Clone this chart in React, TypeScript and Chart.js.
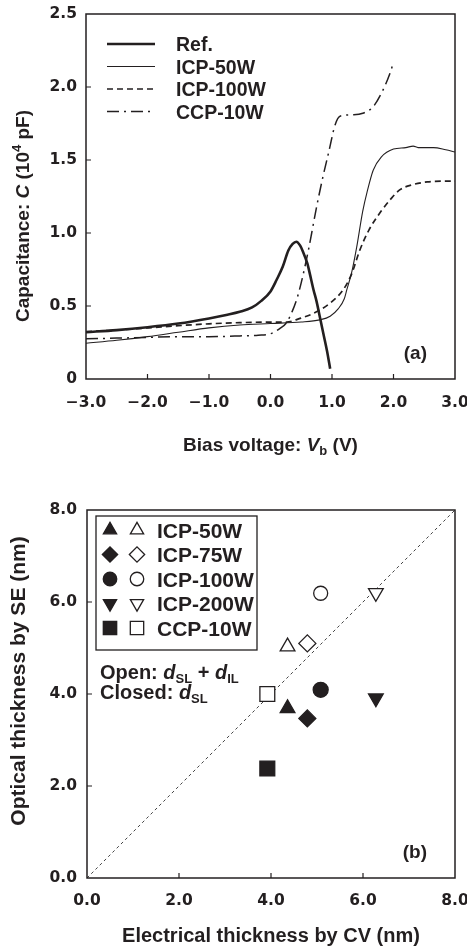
import React, { useEffect, useRef } from 'react';
import { Chart, registerables } from 'chart.js';

Chart.register(...registerables);

// ---------- Panel (a): C–V curves ----------
const seriesNames = ['Ref.', 'ICP-50W', 'ICP-100W', 'CCP-10W'];

const refV = [-3.0, -2.5, -2.0, -1.5, -1.0, -0.7, -0.5, -0.3, -0.15, 0.0, 0.1, 0.2, 0.29, 0.36, 0.42, 0.48, 0.53, 0.6, 0.64, 0.7, 0.75, 0.8, 0.86, 0.92, 0.97];
const refC = [0.32, 0.335, 0.355, 0.38, 0.415, 0.44, 0.46, 0.49, 0.535, 0.6, 0.68, 0.77, 0.88, 0.925, 0.94, 0.915, 0.87, 0.79, 0.72, 0.61, 0.53, 0.43, 0.31, 0.19, 0.07];

const icp50V = [-3.0, -2.5, -2.0, -1.5, -1.0, -0.5, 0.0, 0.5, 0.8, 0.97, 1.1, 1.2, 1.24, 1.32, 1.4, 1.5, 1.57, 1.67, 1.8, 2.0, 2.2, 2.32, 2.4, 2.65, 2.85, 3.0];
const icp50C = [0.245, 0.265, 0.29, 0.32, 0.35, 0.37, 0.38, 0.39, 0.405, 0.43, 0.48, 0.55, 0.61, 0.73, 0.9, 1.15, 1.28, 1.43, 1.52, 1.575, 1.585, 1.595, 1.585, 1.585, 1.57, 1.555];

const icp100V = [-3.0, -2.5, -2.0, -1.5, -1.0, -0.5, 0.0, 0.26, 0.48, 0.7, 0.97, 1.18, 1.32, 1.45, 1.6, 1.8, 1.95, 2.1, 2.3, 2.55, 2.8, 3.0];
const icp100C = [0.325, 0.335, 0.35, 0.365, 0.378, 0.386, 0.39, 0.39, 0.415, 0.45, 0.52, 0.61, 0.72, 0.88, 1.02, 1.15, 1.23, 1.295, 1.33, 1.35, 1.355, 1.355];

const ccp10V = [-3.0, -2.5, -2.0, -1.5, -1.0, -0.5, -0.2, 0.0, 0.15, 0.26, 0.35, 0.43, 0.5, 0.56, 0.62, 0.67, 0.75, 0.85, 0.95, 1.05, 1.13, 1.35, 1.5, 1.67, 1.83, 1.94, 2.0];
const ccp10C = [0.275, 0.28, 0.285, 0.29, 0.29, 0.295, 0.3, 0.31, 0.345, 0.385, 0.46, 0.55, 0.66, 0.77, 0.89, 1.0, 1.18, 1.38, 1.56, 1.74, 1.8, 1.81, 1.82, 1.865, 1.98, 2.09, 2.17];

const biasTicks = [-3, -2, -1, 0, 1, 2, 3];
const biasTickLabels = ['\u22123.0', '\u22122.0', '\u22121.0', '0.0', '1.0', '2.0', '3.0'];
const capTicks = [0, 0.5, 1, 1.5, 2, 2.5];
const capTickLabels = ['0', '0.5', '1.0', '1.5', '2.0', '2.5'];

// ---------- Panel (b): thickness comparison ----------
const sampleNames = ['ICP-50W', 'ICP-75W', 'ICP-100W', 'ICP-200W', 'CCP-10W'];
const electricalCV = [4.36, 4.79, 5.08, 6.28, 3.92];
const openSE = [5.03, 5.1, 6.19, 6.2, 4.0];
const closedSE = [3.69, 3.47, 4.09, 3.91, 2.38];
const diagonal = [0, 8];
const thickTicks = [0, 2, 4, 6, 8];
const thickTickLabels = ['0.0', '2.0', '4.0', '6.0', '8.0'];

// ---------- styles ----------
const INK = '#231f20';
const TICK_FAMILY = '"DejaVu Sans", sans-serif';
const TEXT_FAMILY = '"Liberation Sans", Arial, Helvetica, sans-serif';

const lineStyles = [
  { width: 2.6, dash: [] as number[] },
  { width: 1.1, dash: [] as number[] },
  { width: 1.7, dash: [6, 4] },
  { width: 1.5, dash: [12, 5, 2, 5] },
];

const markerShapes = ['triangle', 'rectRot', 'circle', 'triangle', 'rect'];
const markerRotation = [0, 0, 0, 180, 0];
const markerRadius = [8.5, 8.5, 7.5, 8.5, 10.5];

type Seg = { t: string; i?: boolean; sub?: boolean; sup?: boolean };

function drawRich(ctx: CanvasRenderingContext2D, segs: Seg[], x: number, y: number, size: number, align: 'left' | 'center' | 'right') {
  const fontFor = (s: Seg) =>
    `${s.i ? 'italic ' : ''}bold ${s.sub || s.sup ? Math.round(size * 0.66) : size}px ${TEXT_FAMILY}`;
  let w = 0;
  for (const s of segs) {
    ctx.font = fontFor(s);
    w += ctx.measureText(s.t).width;
  }
  let cx = align === 'left' ? x : align === 'center' ? x - w / 2 : x - w;
  ctx.textAlign = 'left';
  ctx.textBaseline = 'alphabetic';
  ctx.fillStyle = INK;
  for (const s of segs) {
    ctx.font = fontFor(s);
    const dy = s.sub ? size * 0.22 : s.sup ? -size * 0.42 : 0;
    ctx.fillText(s.t, cx, y + dy);
    cx += ctx.measureText(s.t).width;
  }
}

function drawRotated(ctx: CanvasRenderingContext2D, segs: Seg[], bx: number, cy: number, size: number) {
  ctx.save();
  ctx.translate(bx, cy);
  ctx.rotate(-Math.PI / 2);
  drawRich(ctx, segs, 0, 0, size, 'center');
  ctx.restore();
}

function drawMarker(ctx: CanvasRenderingContext2D, shape: string, x: number, y: number, r: number, rotDeg: number, filled: boolean) {
  ctx.save();
  ctx.translate(x, y);
  ctx.rotate((rotDeg * Math.PI) / 180);
  ctx.beginPath();
  if (shape === 'circle') {
    ctx.arc(0, 0, r, 0, Math.PI * 2);
  } else if (shape === 'triangle') {
    for (let k = 0; k < 3; k++) {
      const a = (k * 2 * Math.PI) / 3;
      const px = Math.sin(a) * r;
      const py = -Math.cos(a) * r;
      if (k === 0) ctx.moveTo(px, py);
      else ctx.lineTo(px, py);
    }
    ctx.closePath();
  } else if (shape === 'rectRot') {
    ctx.moveTo(-r, 0);
    ctx.lineTo(0, -r);
    ctx.lineTo(r, 0);
    ctx.lineTo(0, r);
    ctx.closePath();
  } else {
    const s = Math.SQRT1_2 * r;
    ctx.rect(-s, -s, 2 * s, 2 * s);
  }
  ctx.fillStyle = filled ? INK : '#fff';
  ctx.fill();
  ctx.lineWidth = 1.3;
  ctx.strokeStyle = INK;
  ctx.stroke();
  ctx.restore();
}

function frameAndTicks(chart: any, xTicks: number[], yTicks: number[]) {
  const { ctx, chartArea: a, scales } = chart;
  ctx.save();
  ctx.setLineDash([]);
  ctx.strokeStyle = INK;
  ctx.lineWidth = 1.5;
  ctx.strokeRect(a.left, a.top, a.right - a.left, a.bottom - a.top);
  ctx.lineWidth = 1.2;
  ctx.beginPath();
  xTicks.slice(1, -1).forEach((v) => {
    const p = scales.x.getPixelForValue(v);
    ctx.moveTo(p, a.bottom);
    ctx.lineTo(p, a.bottom - 5);
  });
  yTicks.slice(1, -1).forEach((v) => {
    const p = scales.y.getPixelForValue(v);
    ctx.moveTo(a.left, p);
    ctx.lineTo(a.left + 5, p);
  });
  ctx.stroke();
  ctx.restore();
}

const tickFont = { family: TICK_FAMILY, weight: 'bold' as const, size: 15.5 };

function PanelA() {
  const ref = useRef<HTMLCanvasElement>(null);
  useEffect(() => {
    const xs = [refV, icp50V, icp100V, ccp10V];
    const ys = [refC, icp50C, icp100C, ccp10C];
    const datasets = seriesNames.map((name, k) => ({
      label: name,
      data: xs[k].map((v, i) => ({ x: v, y: ys[k][i] })),
      borderColor: INK,
      borderWidth: lineStyles[k].width,
      borderDash: lineStyles[k].dash,
      pointRadius: 0,
      fill: false,
      cubicInterpolationMode: 'monotone' as const,
    }));
    const decor = {
      id: 'decorA',
      afterDatasetsDraw(chart: any) {
        frameAndTicks(chart, biasTicks, capTicks);
        const ctx: CanvasRenderingContext2D = chart.ctx;
        ctx.save();
        // legend
        const rows = [44, 66.5, 89, 111.5];
        datasets.forEach((ds, k) => {
          ctx.beginPath();
          ctx.setLineDash(ds.borderDash);
          ctx.lineWidth = ds.borderWidth;
          ctx.strokeStyle = INK;
          ctx.moveTo(107, rows[k]);
          ctx.lineTo(155, rows[k]);
          ctx.stroke();
          ctx.setLineDash([]);
          drawRich(ctx, [{ t: ds.label }], 176, rows[k] + 7, 19.5, 'left');
        });
        drawRich(ctx, [{ t: '(a)' }], 427, 359, 19, 'right');
        // axis titles
        drawRich(ctx, [{ t: 'Bias voltage: ' }, { t: 'V', i: true }, { t: 'b', sub: true }, { t: ' (V)' }], 270.5, 451, 19, 'center');
        drawRotated(ctx, [{ t: 'Capacitance: ' }, { t: 'C', i: true }, { t: ' (10' }, { t: '4', sup: true }, { t: ' pF)' }], 29, 216, 19);
        ctx.restore();
      },
    };
    const chart = new Chart(ref.current!, {
      type: 'line',
      data: { datasets },
      plugins: [decor],
      options: {
        responsive: false,
        animation: false,
        devicePixelRatio: 1,
        layout: { padding: { left: 0, right: 12, top: 14, bottom: 0 } },
        plugins: { legend: { display: false }, tooltip: { enabled: false } },
        scales: {
          x: {
            type: 'linear',
            min: -3,
            max: 3,
            grid: { display: false, drawTicks: false },
            border: { display: false },
            afterBuildTicks: (s: any) => {
              s.ticks = biasTicks.map((v) => ({ value: v }));
            },
            ticks: {
              autoSkip: false,
              maxRotation: 0,
              padding: 15,
              color: INK,
              font: tickFont,
              callback: (v: any) => biasTickLabels[biasTicks.indexOf(Number(v))],
            },
            afterFit: (s: any) => {
              s.height = 91;
              s.paddingLeft = 0;
              s.paddingRight = 0;
            },
          },
          y: {
            type: 'linear',
            min: 0,
            max: 2.5,
            grid: { display: false, drawTicks: false },
            border: { display: false },
            afterBuildTicks: (s: any) => {
              s.ticks = capTicks.map((v) => ({ value: v }));
            },
            ticks: {
              autoSkip: false,
              padding: 9,
              color: INK,
              font: tickFont,
              callback: (v: any) => capTickLabels[capTicks.indexOf(Number(v))],
            },
            afterFit: (s: any) => {
              s.width = 86;
              s.paddingTop = 0;
              s.paddingBottom = 0;
            },
          },
        },
      } as any,
    });
    return () => chart.destroy();
  }, []);
  return <canvas ref={ref} width={467} height={470} style={{ position: 'absolute', left: 0, top: 0, display: 'block' }} />;
}

function PanelB() {
  const ref = useRef<HTMLCanvasElement>(null);
  useEffect(() => {
    const datasets: any[] = [
      {
        type: 'scatter',
        label: 'closed',
        data: electricalCV.map((v, i) => ({ x: v, y: closedSE[i] })),
        pointStyle: markerShapes,
        pointRotation: markerRotation,
        pointRadius: markerRadius,
        backgroundColor: INK,
        borderColor: INK,
        borderWidth: 1.3,
        showLine: false,
      },
      {
        type: 'scatter',
        label: 'open',
        data: electricalCV.map((v, i) => ({ x: v, y: openSE[i] })),
        pointStyle: markerShapes,
        pointRotation: markerRotation,
        pointRadius: markerRadius.map((r, i) => (i === 2 ? 7 : r)),
        backgroundColor: '#fff',
        borderColor: INK,
        borderWidth: 1.3,
        showLine: false,
      },
      {
        type: 'line',
        label: 'y = x',
        data: diagonal.map((v) => ({ x: v, y: v })),
        borderColor: '#444',
        borderWidth: 1,
        borderDash: [3, 3],
        pointRadius: 0,
        fill: false,
      },
    ];
    const decor = {
      id: 'decorB',
      afterDatasetsDraw(chart: any) {
        frameAndTicks(chart, thickTicks, thickTicks);
        const ctx: CanvasRenderingContext2D = chart.ctx;
        ctx.save();
        // legend box
        ctx.strokeStyle = INK;
        ctx.lineWidth = 1.3;
        ctx.strokeRect(96, 46, 161, 134);
        const rows = [60, 84.5, 109, 133.5, 158];
        sampleNames.forEach((name, k) => {
          drawMarker(ctx, markerShapes[k], 110, rows[k], markerRadius[k] * 0.9, markerRotation[k], true);
          drawMarker(ctx, markerShapes[k], 137, rows[k], markerRadius[k] * 0.9, markerRotation[k], false);
          drawRich(ctx, [{ t: name }], 157, rows[k] + 7.5, 21, 'left');
        });
        drawRich(ctx, [{ t: 'Open: ' }, { t: 'd', i: true }, { t: 'SL', sub: true }, { t: ' + ' }, { t: 'd', i: true }, { t: 'IL', sub: true }], 100, 209, 20, 'left');
        drawRich(ctx, [{ t: 'Closed: ' }, { t: 'd', i: true }, { t: 'SL', sub: true }], 100, 229, 20, 'left');
        drawRich(ctx, [{ t: '(b)' }], 427, 388, 19, 'right');
        drawRich(ctx, [{ t: 'Electrical thickness by CV (nm)' }], 271, 472, 20, 'center');
        drawRotated(ctx, [{ t: 'Optical thickness by SE (nm)' }], 25, 211, 21);
        ctx.restore();
      },
    };
    const chart = new Chart(ref.current!, {
      type: 'scatter',
      data: { datasets },
      plugins: [decor],
      options: {
        responsive: false,
        animation: false,
        devicePixelRatio: 1,
        layout: { padding: { left: 0, right: 12, top: 40, bottom: 0 } },
        plugins: { legend: { display: false }, tooltip: { enabled: false } },
        scales: {
          x: {
            type: 'linear',
            min: 0,
            max: 8,
            grid: { display: false, drawTicks: false },
            border: { display: false },
            afterBuildTicks: (s: any) => {
              s.ticks = thickTicks.map((v) => ({ value: v }));
            },
            ticks: {
              autoSkip: false,
              maxRotation: 0,
              padding: 14,
              color: INK,
              font: tickFont,
              callback: (v: any) => thickTickLabels[thickTicks.indexOf(Number(v))],
            },
            afterFit: (s: any) => {
              s.height = 69;
              s.paddingLeft = 0;
              s.paddingRight = 0;
            },
          },
          y: {
            type: 'linear',
            min: 0,
            max: 8,
            grid: { display: false, drawTicks: false },
            border: { display: false },
            afterBuildTicks: (s: any) => {
              s.ticks = thickTicks.map((v) => ({ value: v }));
            },
            ticks: {
              autoSkip: false,
              padding: 10,
              color: INK,
              font: tickFont,
              callback: (v: any) => thickTickLabels[thickTicks.indexOf(Number(v))],
            },
            afterFit: (s: any) => {
              s.width = 87;
              s.paddingTop = 0;
              s.paddingBottom = 0;
            },
          },
        },
      } as any,
    });
    return () => chart.destroy();
  }, []);
  return <canvas ref={ref} width={467} height={477} style={{ position: 'absolute', left: 0, top: 470, display: 'block' }} />;
}

export default function App() {
  return (
    <div style={{ position: 'absolute', left: 0, top: 0, width: 467, height: 947, background: '#fff', overflow: 'hidden' }}>
      <PanelA />
      <PanelB />
    </div>
  );
}
